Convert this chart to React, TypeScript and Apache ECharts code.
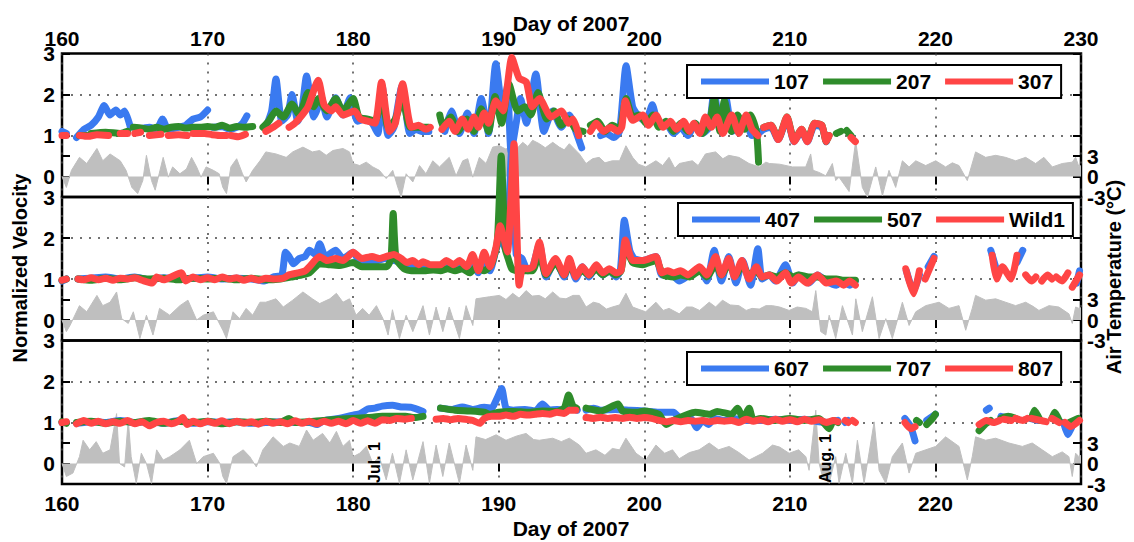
import React, { useEffect, useRef } from 'react';
import * as echarts from 'echarts';

type Pt = [number, number | null];

// Axis tick labels
const velocityLabels = [0, 1, 2, 3];
const temperatureLabels = [-3, 0, 3];
const velocityTickMarks = [-0.5, 0, 0.5, 1, 2, 3];
const temperatureTickMarks = [-3, 0, 3, 6, 12, 18];

const seriesNames = [
  ['107', '207', '307'],
  ['407', '507', 'Wild1'],
  ['607', '707', '807'],
];

// Calendar annotations (day of year)
const dateMarks: { day: number; label: string }[] = [
  { day: 182, label: 'Jul. 1' },
  { day: 213, label: 'Aug. 1' },
];

// ---- Panel 1: normalized velocity ----
const v107: Pt[] = [
  [160.0, 1.1], [160.3, 1.05], [160.4, null],
  [161.0, 0.95], [161.5, 1.15], [162.0, 1.25], [162.5, 1.45], [162.9, 1.73], [163.3, 1.5], [163.7, 1.62], [164.0, 1.5], [164.3, 1.6], [164.7, 1.2], [164.8, null],
  [165.2, 1.15], [166.0, 1.2], [166.5, 1.15], [166.9, 1.4], [167.3, 1.15], [168.0, 1.2], [168.5, 1.25], [169.0, 1.4], [169.5, 1.45], [170.0, 1.62], [170.1, null],
  [170.4, 1.2], [171.0, 1.22], [171.5, 1.15], [172.0, 1.2], [172.4, 1.3], [172.7, 1.48], [172.8, null],
  [174.0, 1.2], [174.4, 1.6], [174.7, 2.38], [175.1, 1.35], [175.5, 1.5], [175.8, 2.0], [176.2, 1.35], [176.5, 1.7], [176.8, 2.45], [177.3, 1.45], [177.6, 1.7], [177.8, 1.95], [178.2, 1.45], [178.8, 1.92], [179.3, 1.5], [179.8, 1.92], [180.3, 1.35], [180.8, 1.4], [181.3, 1.3], [181.7, 1.05], [182.0, 2.2], [182.4, 1.0], [182.8, 1.2], [183.35, 2.2], [183.9, 1.05], [184.3, 1.15], [184.7, 1.1], [185.2, 1.1], [185.3, null],
  [186.3, 1.1], [186.75, 1.6], [187.3, 1.05], [187.85, 1.55], [188.3, 1.05], [188.8, 1.9], [189.3, 1.05], [189.8, 2.75], [190.3, 1.5], [190.6, 2.2], [190.85, 0.6], [191.2, 1.3], [191.5, 1.9], [191.9, 1.3], [192.55, 2.5], [193.1, 1.1], [193.7, 1.6], [194.3, 1.2], [194.85, 1.5], [195.3, 1.1], [195.7, 0.7], [195.8, null],
  [197.0, 1.0], [197.4, 1.05], [197.9, 0.95], [198.3, 1.1], [198.75, 2.7], [199.2, 1.7], [199.65, 1.45], [200.1, 1.35], [200.55, 1.75], [201.0, 1.25], [201.5, 1.3], [202.0, 1.05], [202.5, 1.2], [203.0, 1.0], [203.5, 1.3], [204.0, 1.05], [204.45, 1.2], [204.8, 2.1], [205.2, 1.15], [205.6, 1.93], [206.05, 1.1], [206.5, 1.4], [207.0, 1.35], [207.4, 1.0], [207.9, 1.07], [208.2, 1.15], [208.7, 1.2], [209.2, 0.9], [209.8, 1.4], [210.3, 0.85], [210.8, 1.1], [211.2, 0.85], [211.7, 1.25], [212.2, 1.2], [212.5, 0.85],
];

const v207: Pt[] = [
  [161.2, 1.0], [161.7, 1.0], [161.8, null],
  [162.0, 1.05], [163.0, 1.08], [164.0, 1.05], [164.5, 1.1], [164.6, null],
  [164.9, 1.2], [165.5, 1.18], [166.0, 1.15], [166.5, 1.2], [167.0, 1.15], [167.5, 1.2], [168.0, 1.22], [168.5, 1.18], [169.0, 1.2], [169.5, 1.2], [170.0, 1.22], [170.5, 1.2], [171.0, 1.25], [171.5, 1.18], [172.0, 1.22], [172.5, 1.2], [173.1, 1.22], [173.2, null],
  [173.8, 1.2], [174.2, 1.35], [174.7, 1.6], [175.2, 1.45], [175.8, 1.77], [176.3, 1.5], [176.9, 2.05], [177.3, 1.7], [177.6, 1.9], [178.2, 1.6], [178.8, 1.9], [179.3, 1.6], [180.0, 1.9], [180.4, 1.45], [181.0, 1.4], [181.5, 1.35], [182.0, 1.9], [182.4, 1.2], [182.9, 1.4], [183.4, 1.9], [183.9, 1.2], [184.5, 1.2], [185.2, 1.2], [185.3, null],
  [185.95, 1.5], [186.2, 1.2], [186.7, 1.45], [187.2, 1.1], [187.8, 1.4], [188.3, 1.1], [188.8, 1.65], [189.3, 1.1], [189.75, 1.95], [190.2, 1.3], [190.7, 2.26], [191.3, 1.6], [191.8, 1.7], [192.2, 1.5], [192.7, 2.05], [193.3, 1.4], [193.8, 1.6], [194.3, 1.25], [194.8, 1.4], [195.3, 1.15], [195.8, 1.1], [195.9, null],
  [196.3, 1.25], [196.8, 1.35], [197.3, 1.1], [197.8, 1.25], [198.3, 1.15], [198.75, 1.9], [199.2, 1.45], [199.7, 1.5], [200.1, 1.3], [200.6, 1.5], [201.0, 1.2], [201.5, 1.35], [202.0, 1.1], [202.5, 1.3], [203.0, 1.1], [203.5, 1.3], [204.0, 1.05], [204.5, 1.35], [204.8, 1.9], [205.2, 1.1], [205.5, 1.85], [206.0, 1.1], [206.4, 1.5], [206.9, 1.15], [207.3, 1.5], [207.7, 1.1], [207.85, 0.35], [207.9, null],
  [208.2, 1.2], [208.7, 1.25], [209.2, 0.92], [209.8, 1.45], [210.3, 0.88], [210.8, 1.15], [211.2, 0.88], [211.7, 1.3], [212.2, 1.25], [212.5, 0.85], [212.7, 1.0], [212.8, null],
  [213.2, 1.05], [213.5, 1.1], [213.6, null], [213.9, 1.12], [214.2, 1.0],
];

const v307: Pt[] = [
  [160.0, 1.0], [160.3, 1.0], [160.4, null],
  [161.2, 1.0], [161.8, 0.98], [162.4, 1.02], [163.2, 1.0], [163.3, null],
  [164.0, 1.05], [164.5, 1.05], [164.6, null], [165.0, 1.05], [165.4, 1.08], [165.5, null],
  [166.0, 1.0], [166.8, 1.03], [166.9, null], [167.3, 1.0], [168.0, 1.02], [168.6, 1.0], [168.7, null],
  [169.0, 1.05], [169.8, 1.05], [170.3, 1.02], [171.0, 1.0], [171.3, 1.0], [171.4, null],
  [171.6, 1.0], [172.1, 0.97], [172.6, 1.03], [172.7, null],
  [174.0, 1.1], [174.5, 1.2], [174.9, 1.3], [175.0, null],
  [175.6, 1.2], [176.0, 1.3], [176.5, 1.5], [176.9, 1.7], [177.6, 2.35], [178.0, 1.75], [178.5, 1.6], [178.8, 1.7], [179.3, 1.5], [180.1, 1.6], [180.5, 1.4], [181.0, 1.35], [181.5, 1.3], [181.95, 2.3], [182.5, 1.1], [182.9, 1.3], [183.4, 2.26], [184.0, 1.2], [184.5, 1.25], [185.0, 1.15], [185.3, 1.2], [185.4, null],
  [186.1, 1.15], [186.6, 1.35], [187.0, 1.1], [187.5, 1.4], [187.9, 1.15], [188.3, 1.45], [188.6, 1.2], [189.0, 1.55], [189.3, 1.3], [189.8, 1.85], [190.3, 1.6], [190.9, 2.9], [191.4, 2.4], [191.9, 2.3], [192.3, 1.7], [192.8, 1.9], [193.6, 1.45], [194.3, 1.6], [194.8, 1.3], [195.1, 1.4], [195.5, 1.0], [195.6, null],
  [196.3, 1.1], [196.7, 1.3], [197.2, 1.1], [197.7, 1.2], [198.2, 1.1], [198.45, 1.2], [198.7, 1.85], [199.2, 1.37], [199.9, 1.5], [200.3, 1.25], [200.8, 1.5], [201.3, 1.2], [201.8, 1.35], [202.2, 1.15], [202.7, 1.35], [203.1, 1.1], [203.4, 1.3], [203.8, 1.05], [204.2, 1.45], [204.6, 1.2], [205.0, 1.45], [205.4, 1.05], [206.0, 1.5], [206.5, 1.05], [207.0, 1.5], [207.4, 1.15], [207.8, 1.0], [207.9, null],
  [208.2, 1.2], [208.7, 1.25], [209.2, 0.9], [209.8, 1.45], [210.3, 0.85], [210.8, 1.15], [211.2, 0.85], [211.7, 1.3], [212.2, 1.25], [212.5, 0.85], [212.7, 1.0], [212.8, null],
  [214.2, 0.95], [214.5, 0.85],
];

// ---- Panel 2: normalized velocity ----
const v407: Pt[] = [
  [160.0, 0.95], [160.3, 1.0], [160.35, null],
  [161.1, 1.0], [162, 1.02], [163, 1.05], [164, 1.0], [165, 1.05], [166, 0.98], [167, 1.03], [168, 1.0], [169, 1.02], [170, 1.05], [171, 1.0], [172, 1.02], [173, 1.0], [173.9, 0.95], [174.5, 1.05], [175.1, 1.1], [175.35, 1.65], [175.6, 1.55], [175.9, 1.37], [176.3, 1.5], [176.7, 1.55], [177.0, 1.7], [177.4, 1.6], [177.7, 1.86], [178.1, 1.55], [178.8, 1.7], [179.3, 1.5], [180.0, 1.65], [180.5, 1.4], [181.1, 1.45], [181.6, 1.45], [182.2, 1.5], [182.8, 1.45], [183.3, 1.4], [183.8, 1.3], [184.3, 1.35], [184.8, 1.25], [185.3, 1.3], [185.8, 1.25], [186.3, 1.3], [186.8, 1.25], [187.3, 1.35], [187.8, 1.2], [188.2, 1.45], [188.6, 1.15], [189.0, 1.55], [189.4, 1.2], [189.8, 1.7], [190.1, 2.0], [190.5, 1.7], [190.9, 4.2], [191.2, 1.6], [191.6, 1.5], [192.0, 1.2], [192.3, 1.25], [192.8, 1.85], [193.25, 1.05], [193.9, 1.45], [194.5, 1.05], [194.85, 1.45], [195.3, 1.0], [195.75, 1.3], [196.2, 1.05], [196.7, 1.3], [197.15, 1.1], [197.6, 1.2], [198.05, 1.05], [198.35, 1.2], [198.63, 2.43], [199.0, 1.7], [199.3, 1.5], [199.9, 1.45], [200.8, 1.55], [201.2, 1.1], [201.9, 1.1], [202.4, 0.95], [203.1, 1.1], [203.8, 1.25], [204.3, 0.95], [204.8, 1.7], [205.3, 0.95], [205.8, 1.55], [206.3, 0.9], [206.75, 1.45], [207.3, 0.85], [207.8, 1.74], [208.1, 1.0], [208.6, 1.1], [209.0, 0.95], [209.7, 1.35], [210.2, 0.9], [210.6, 1.1], [211.3, 0.9], [211.9, 1.1], [212.5, 0.95], [213.2, 0.85], [213.6, 0.95], [214.1, 0.85], [214.5, 0.95], [214.6, null],
  [218.0, 1.2], [218.5, 0.7], [218.9, 1.1], [219.0, null],
  [219.5, 1.3], [219.9, 1.55], [220.0, null],
  [223.8, 1.7], [224.3, 1.1], [224.4, null],
  [225.6, 1.4], [226.0, 1.7], [226.1, null],
  [229.7, 0.9], [229.9, 1.2],
];

const v507: Pt[] = [
  [160.0, 0.97], [160.3, 1.0], [160.35, null],
  [161.1, 1.0], [162, 0.97], [163, 1.02], [164, 0.98], [165, 1.03], [166, 1.0], [167, 1.02], [168, 0.98], [169, 1.02], [170, 1.0], [171, 1.02], [172, 0.98], [173, 1.02], [174, 0.98], [175, 1.0], [175.8, 1.05], [176.5, 1.1], [177.0, 1.15], [177.7, 1.37], [178.3, 1.35], [179.0, 1.33], [180.0, 1.4], [180.6, 1.3], [181.5, 1.3], [182.3, 1.3], [182.6, 1.5], [182.75, 2.6], [182.95, 1.5], [183.5, 1.25], [184.0, 1.2], [184.5, 1.2], [185.0, 1.2], [185.5, 1.22], [186.0, 1.2], [186.5, 1.25], [187.0, 1.2], [187.5, 1.25], [188.0, 1.15], [188.5, 1.3], [189.0, 1.2], [189.5, 1.35], [189.9, 1.9], [190.17, 4.0], [190.45, 1.74], [190.65, 1.5], [190.9, 1.25], [191.3, 1.2], [191.7, 1.2], [192.3, 1.2], [192.8, 1.6], [193.25, 1.1], [193.9, 1.4], [194.5, 1.1], [194.85, 1.35], [195.3, 1.1], [195.75, 1.2], [196.2, 1.1], [196.7, 1.25], [197.15, 1.1], [197.6, 1.2], [198.05, 1.1], [198.4, 1.2], [198.7, 1.8], [199.2, 1.4], [199.9, 1.35], [200.8, 1.45], [201.3, 1.1], [202.0, 1.05], [202.5, 1.1], [203.1, 1.05], [203.8, 1.2], [204.3, 1.05], [204.9, 1.35], [205.3, 1.1], [205.8, 1.35], [206.3, 1.1], [206.7, 1.35], [207.2, 1.1], [207.7, 1.2], [208.1, 1.05], [208.6, 1.1], [209.1, 1.05], [209.7, 1.15], [210.2, 1.05], [210.6, 1.1], [211.3, 1.05], [211.9, 1.05], [212.5, 1.0], [213.2, 1.0], [213.7, 0.97], [214.5, 0.97],
];

const vWild1: Pt[] = [
  [160.0, 0.97], [160.3, 1.0], [160.35, null],
  [161.1, 1.0], [161.5, 0.98], [162, 1.03], [162.5, 0.98], [163, 1.02], [163.5, 0.97], [164, 1.02], [164.5, 1.0], [165, 1.03], [165.5, 0.97], [166.2, 0.9], [166.5, 1.05], [167, 0.98], [167.5, 1.05], [168.2, 1.15], [168.5, 0.95], [169, 1.05], [169.5, 0.98], [170, 1.03], [170.5, 0.98], [171, 1.05], [171.5, 1.0], [172, 1.03], [172.5, 0.97], [173, 1.02], [173.5, 0.97], [174, 1.02], [174.5, 1.0], [175.2, 1.02], [175.6, 1.1], [176.2, 1.15], [176.7, 1.2], [177.0, 1.3], [177.7, 1.55], [178.2, 1.45], [178.8, 1.5], [179.3, 1.45], [180.0, 1.65], [180.6, 1.5], [181.3, 1.55], [181.8, 1.5], [182.3, 1.55], [182.8, 1.6], [183.3, 1.5], [183.7, 1.4], [184.1, 1.45], [184.5, 1.35], [184.8, 1.42], [185.3, 1.35], [186.0, 1.35], [186.4, 1.45], [186.9, 1.35], [187.3, 1.45], [187.8, 1.3], [188.2, 1.6], [188.6, 1.2], [189.0, 1.65], [189.4, 1.3], [189.8, 1.75], [190.1, 2.3], [190.35, 2.0], [190.6, 1.66], [191.05, 4.3], [191.4, 0.85], [191.65, 1.27], [192.0, 1.25], [192.35, 1.3], [192.8, 1.9], [193.25, 1.13], [193.9, 1.5], [194.5, 1.1], [194.85, 1.5], [195.3, 1.05], [195.75, 1.3], [196.2, 1.1], [196.7, 1.35], [197.15, 1.15], [197.6, 1.25], [198.05, 1.15], [198.4, 1.2], [198.7, 1.95], [199.2, 1.45], [199.9, 1.45], [200.8, 1.55], [201.2, 1.15], [201.6, 1.2], [202.0, 1.15], [202.5, 1.2], [203.0, 1.1], [203.8, 1.3], [204.3, 1.1], [204.9, 1.55], [205.3, 1.1], [205.8, 1.5], [206.2, 1.05], [206.7, 1.45], [207.2, 1.0], [207.7, 1.3], [208.1, 1.05], [208.6, 1.1], [209.1, 0.95], [209.7, 1.15], [210.1, 0.9], [210.6, 1.05], [211.2, 0.9], [211.9, 1.1], [212.5, 0.9], [213.2, 0.95], [213.7, 0.85], [214.1, 0.95], [214.5, 0.85], [214.6, null],
  [217.96, 1.25], [218.5, 0.64], [218.9, 1.2], [219.0, null],
  [219.3, 1.0], [219.9, 1.5], [220.0, null],
  [223.9, 1.58], [224.2, 1.0], [224.6, 1.3], [225.2, 1.0], [225.6, 1.58], [225.8, null],
  [226.2, 1.1], [226.6, 0.95], [226.9, 1.05], [227.0, null],
  [227.3, 0.95], [227.7, 1.1], [228.0, 1.0], [228.1, null],
  [228.3, 1.05], [228.7, 0.95], [229.1, 1.15], [229.2, null],
  [229.4, 0.8], [229.9, 1.1],
];

// ---- Panel 3: normalized velocity ----
const v607: Pt[] = [
  [160, 1.0], [160.3, 1.0], [160.35, null],
  [161.0, 0.98], [162, 1.02], [163, 1.0], [164, 1.05], [165, 1.0], [166, 1.02], [167, 0.98], [168, 1.05], [169, 0.98], [170, 1.02], [171, 1.0], [172, 1.02], [173, 0.98], [174, 1.0], [175, 1.02], [176, 1.0], [177, 1.0], [177.5, 0.95], [178, 1.05], [179, 1.1], [180, 1.18], [180.5, 1.22], [181, 1.33], [181.5, 1.35], [182, 1.4], [182.7, 1.42], [183.3, 1.38], [184, 1.37], [184.8, 1.27], [184.9, null],
  [186.0, 1.35], [186.8, 1.32], [187.5, 1.38], [188.2, 1.32], [189, 1.37], [189.5, 1.35], [189.9, 1.6], [190.2, 1.83], [190.5, 1.35], [191, 1.3], [191.8, 1.32], [192.5, 1.28], [193.0, 1.45], [193.5, 1.3], [194, 1.32], [194.6, 1.3], [195.0, 1.35], [195.4, 1.3], [195.45, null],
  [196.0, 1.3], [196.5, 1.35], [197, 1.3], [198, 1.32], [199, 1.3], [200, 1.28], [201, 1.25], [202, 1.25], [202.5, 1.1], [203.2, 1.1], [203.6, 0.87], [204.0, 1.05], [204.4, 0.95], [204.8, 1.1], [205.5, 1.05], [206, 1.1], [207, 1.05], [208, 1.05], [209, 1.08], [210, 1.05], [211, 1.08], [212, 1.02], [212.7, 1.0], [213.3, 1.05], [213.4, null],
  [213.8, 1.0], [214.0, 1.05], [214.1, null],
  [217.9, 1.1], [218.3, 0.9], [218.6, 0.55], [218.7, null],
  [219.4, 1.05], [220.0, 1.2], [220.1, null],
  [223.5, 1.3], [223.7, 1.35], [223.8, null],
  [224.5, 1.15], [225.0, 1.1], [225.1, null],
  [226.5, 1.1], [227.0, 1.05], [227.1, null],
  [228.8, 1.0], [229.1, 0.7], [229.5, 1.0],
];

const v707: Pt[] = [
  [160, 1.02], [160.3, 0.98], [160.35, null],
  [161.0, 1.0], [162, 1.03], [163, 0.98], [164, 1.03], [165, 1.0], [166, 1.05], [167, 0.98], [168, 1.03], [169, 1.0], [170, 1.03], [171, 0.97], [172, 1.02], [173, 1.0], [174, 1.03], [175, 1.0], [175.6, 1.1], [176, 1.0], [177, 1.02], [178, 1.05], [179, 1.08], [180, 1.1], [181, 1.12], [182, 1.15], [183, 1.15], [183.6, 1.15], [184.2, 1.12], [184.8, 1.15], [184.9, null],
  [186.0, 1.35], [187, 1.3], [188, 1.28], [189, 1.25], [189.4, 1.2], [190, 1.25], [191, 1.27], [192, 1.25], [193, 1.28], [194, 1.27], [194.5, 1.35], [194.8, 1.67], [195.1, 1.4], [195.35, 1.35], [195.45, null],
  [196.0, 1.35], [197, 1.28], [198.2, 1.45], [198.5, 1.28], [199.5, 1.25], [200, 1.28], [201, 1.2], [201.5, 0.95], [202, 1.05], [203, 1.2], [203.5, 1.25], [204.5, 1.2], [205, 1.27], [206, 1.2], [206.4, 1.35], [206.8, 1.1], [207.2, 1.35], [207.5, 1.05], [208, 1.1], [209, 1.05], [210, 1.1], [211, 1.05], [212, 1.1], [212.7, 0.85], [213.0, 1.05], [213.3, 1.0], [213.4, null],
  [218.7, 1.05], [218.9, 1.0], [219.0, null],
  [219.4, 0.95], [219.8, 1.1], [220.0, 1.2], [220.1, null],
  [223.0, 0.8], [223.4, 0.95], [223.8, 1.05], [224.0, null],
  [224.5, 1.1], [225.0, 1.15], [225.5, 1.1], [225.6, null],
  [226.6, 1.1], [226.8, 1.3], [227.2, 1.05], [227.3, null],
  [228.0, 1.1], [228.2, 1.25], [228.5, 1.05], [228.6, null],
  [229.2, 1.0], [229.8, 1.1],
];

const v807: Pt[] = [
  [160, 1.0], [160.3, 1.02], [160.35, null],
  [161.0, 0.97], [161.5, 1.05], [162, 0.98], [162.5, 1.03], [163, 0.97], [163.5, 1.02], [164, 0.98], [164.5, 1.05], [165, 0.97], [165.5, 1.02], [166, 0.92], [166.5, 1.0], [167, 1.03], [167.5, 0.97], [168, 1.03], [168.3, 1.12], [168.6, 0.95], [169, 1.03], [169.5, 0.97], [170, 1.03], [170.5, 0.98], [171, 1.04], [171.5, 0.97], [172, 1.03], [172.5, 0.98], [173, 1.02], [173.5, 0.96], [174, 1.03], [174.5, 0.98], [175, 1.02], [175.5, 0.97], [176, 1.04], [176.5, 0.98], [177, 1.03], [177.5, 0.97], [178, 1.03], [178.5, 0.98], [179, 1.03], [179.5, 0.97], [180, 1.05], [180.5, 0.98], [181, 1.04], [181.5, 0.98], [182, 1.07], [182.5, 1.05], [183, 1.1], [183.5, 1.08], [184.0, 1.1], [184.1, null],
  [185.7, 1.08], [186.2, 1.1], [186.7, 1.07], [187.2, 1.1], [187.7, 1.08], [188.2, 1.05], [188.7, 0.98], [189.0, 1.1], [189.5, 1.15], [190, 1.15], [190.5, 1.18], [191, 1.15], [191.5, 1.2], [192, 1.18], [192.5, 1.2], [193, 1.22], [193.5, 1.2], [194, 1.25], [194.5, 1.22], [194.85, 1.3], [195.3, 1.3], [195.35, null],
  [196.0, 1.12], [196.5, 1.1], [197, 1.13], [197.5, 1.1], [198, 1.12], [198.5, 1.1], [199, 1.13], [199.5, 1.1], [200, 1.12], [200.5, 1.1], [201, 1.05], [201.5, 1.02], [202, 1.05], [202.5, 1.02], [203, 1.05], [203.5, 1.03], [204, 1.05], [204.5, 1.02], [205, 1.05], [205.5, 1.03], [206, 1.05], [206.5, 1.0], [207, 1.08], [207.5, 1.03], [208, 1.07], [208.5, 1.02], [209, 1.08], [209.5, 1.03], [210, 1.07], [210.5, 1.02], [211, 1.08], [211.5, 1.03], [212, 1.07], [212.5, 1.0], [213, 1.05], [213.3, 1.02], [213.4, null],
  [213.8, 1.05], [214.0, 1.0], [214.1, null],
  [214.3, 1.05], [214.5, 1.0], [214.6, null],
  [217.9, 1.0], [218.3, 0.85], [218.6, 0.9], [218.7, null],
  [223.0, 0.95], [223.5, 1.05], [224.0, 1.0], [224.4, 1.05], [224.5, null],
  [224.7, 1.08], [225.2, 1.05], [225.3, null],
  [225.5, 1.1], [226.0, 1.05], [226.3, 1.1], [226.4, null],
  [226.6, 1.1], [227.2, 1.05], [227.6, 1.02], [227.7, null],
  [228.0, 1.1], [228.5, 1.0], [228.6, null],
  [228.9, 1.0], [229.3, 0.9], [229.9, 1.05],
];

// ---- Air temperature (°C) shown under each panel ----
const tempTop: Pt[] = [
  [160.0, 0], [160.3, -1.6], [160.65, 0.9], [161.2, 2.8], [161.7, 1.9], [162.4, 4.1], [162.8, 2.3], [163.3, 3.3], [164.0, 2.3], [164.4, 0.9], [164.8, -1.6], [165.2, -2.5], [165.55, -0.6], [165.8, 3.1], [166.15, -0.6], [166.4, -2.0], [166.95, 2.8], [167.3, -0.1], [167.6, 1.4], [168.1, 0.4], [168.55, 1.1], [168.9, 2.8], [169.25, 1.4], [169.55, -0.1], [169.9, 1.4], [170.4, 0.9], [170.8, 0.4], [171.05, -1.6], [171.3, -2.5], [171.6, 1.4], [172.0, 2.6], [172.4, 0.4], [172.65, -0.8], [173.1, 0.9], [173.6, 2.3], [174.0, 3.6], [174.7, 3.3], [175.4, 2.8], [175.85, 3.6], [176.55, 4.3], [177.2, 3.6], [177.7, 3.8], [178.15, 3.1], [178.6, 3.8], [179.3, 4.1], [179.75, 3.6], [180.0, 1.9], [180.45, 1.6], [180.9, 2.1], [181.35, 1.4], [181.8, 0.9], [182.27, -0.3], [182.72, 0.9], [183.07, -1.6], [183.3, -3], [183.64, 0.4], [184.1, -0.8], [184.56, 1.6], [185.0, 0.4], [185.47, 2.3], [185.93, 1.4], [186.6, 2.8], [187.07, 0.1], [187.53, 2.3], [187.87, 2.6], [188.22, -0.1], [188.67, 2.8], [189.13, 1.9], [189.59, 4.3], [190.05, 4.5], [190.5, 4.0], [190.96, 4.8], [191.3, 4.2], [191.65, 5.0], [192.0, 4.4], [192.33, 5.3], [192.79, 4.8], [193.2, 4.2], [193.71, 5.0], [194.16, 4.3], [194.5, 3.9], [194.85, 4.8], [195.54, 3.3], [196.0, 1.9], [196.45, 2.6], [196.9, 2.8], [197.3, 2.0], [197.8, 2.3], [198.3, 2.3], [198.74, 4.5], [199.2, 2.8], [199.6, 1.8], [200.1, 1.4], [200.8, 2.3], [201.26, 1.6], [201.7, 2.8], [202.1, 1.2], [202.4, 1.9], [203.3, 2.3], [203.7, 1.6], [204.2, 3.3], [204.9, 3.6], [205.4, 2.6], [205.8, 3.1], [206.5, 2.8], [207.2, 1.9], [207.9, 1.4], [208.35, 2.1], [208.6, 1.9], [209.3, 1.8], [210.18, 1.4], [211.09, 1.4], [211.43, 3.3], [211.6, 0.9], [212.0, 0.6], [212.47, 0.1], [212.92, 1.9], [213.15, -0.6], [213.38, -0.1], [214.07, -2.2], [214.52, 5.2], [214.98, -1.6], [215.33, -3], [215.9, 1.4], [216.36, -2.8], [216.81, 0.9], [217.27, -1.6], [217.73, 2.3], [218.19, 1.4], [218.65, 2.3], [219.33, 1.6], [220.02, 2.3], [220.7, 1.4], [221.16, 2.0], [221.62, 1.6], [222.19, -0.6], [222.76, 3.6], [223.45, 2.8], [224.14, 3.1], [224.82, 2.8], [225.51, 2.3], [226.2, 2.8], [226.88, 1.9], [227.45, 2.8], [228.03, 1.4], [228.71, 1.9], [229.4, 2.1], [229.63, 2.8], [229.86, 1.4], [230, 1.6],
];

const tempMiddle: Pt[] = [
  [160.0, 0], [160.3, -1.7], [160.55, -0.8], [161.2, 2.1], [161.7, 1.2], [162.4, 3.6], [162.8, 2.1], [163.3, 2.6], [163.75, 4.1], [164.1, 0.2], [164.55, -0.5], [164.9, 1.2], [165.35, -2.7], [165.8, 0.7], [166.25, -2.2], [166.7, 1.7], [167.4, 0.7], [168.1, 2.1], [168.65, 2.9], [169.25, 0], [169.7, 0.7], [170.4, 1.2], [171.05, -1.5], [171.3, -2.7], [171.75, 1.2], [172.2, 0.2], [172.65, 1.7], [173.1, 0.7], [173.6, 2.6], [174.0, 2.6], [174.7, 3.1], [175.2, 1.9], [175.85, 2.9], [176.55, 4.1], [177.2, 3.1], [177.7, 2.4], [178.4, 3.1], [178.85, 3.9], [179.3, 2.6], [179.75, 3.1], [180.2, 0.7], [180.65, 1.7], [181.1, 0.7], [181.6, 2.1], [182.05, 0.2], [182.4, -2.2], [182.7, 1.5], [183.18, -2.7], [183.64, 0.7], [184.1, -1.7], [184.8, 2.1], [185.24, -2.2], [185.7, 1.9], [186.16, -1.7], [186.6, 1.9], [187.3, -2.7], [187.76, 2.1], [188.22, -0.8], [188.44, 3.1], [189.36, 3.4], [190.05, 3.6], [190.5, 3.0], [190.96, 3.9], [191.4, 3.2], [191.88, 4.3], [192.3, 3.5], [192.79, 3.6], [193.2, 3.1], [193.71, 4.1], [194.2, 3.2], [194.62, 3.1], [195.1, 3.6], [195.54, 3.6], [196.0, 1.9], [196.5, 2.6], [196.9, 2.4], [197.4, 1.6], [197.8, 1.9], [198.3, 2.2], [198.74, 3.9], [199.2, 1.9], [199.7, 1.5], [200.1, 1.2], [200.8, 2.6], [201.3, 1.4], [201.7, 1.7], [202.4, 0.9], [202.9, 1.9], [203.3, 1.9], [203.8, 1.4], [204.46, 2.6], [204.9, 1.9], [205.37, 2.9], [205.9, 2.2], [206.5, 2.1], [207.0, 1.4], [207.4, 1.7], [207.9, 1.6], [208.35, 2.1], [208.8, 2.1], [209.3, 1.9], [209.95, 1.4], [210.5, 1.9], [211.1, 1.7], [211.55, 1.2], [211.78, 4.3], [212.12, -1.7], [212.47, -2.2], [212.7, 0.7], [213.15, -2.7], [213.61, 2.1], [214.3, -2.2], [214.53, 3.1], [214.98, -1.7], [215.67, 3.4], [216.13, -2.7], [216.59, 0.2], [217.04, -2.7], [217.73, 2.6], [218.19, -0.8], [218.65, 1.2], [219.33, 2.1], [220.25, 2.6], [220.93, 1.7], [221.62, 2.1], [222.08, -1.5], [222.53, 1.7], [222.76, 3.6], [223.45, 2.9], [224.14, 3.1], [224.82, 2.6], [225.51, 2.1], [226.2, 2.6], [226.7, 2.0], [227.11, 1.4], [227.8, 2.1], [228.48, 1.9], [229.17, 0.9], [229.4, -0.5], [229.63, 1.9], [229.86, 1.7], [230, 1.8],
];

const tempBottom: Pt[] = [
  [160.0, 0], [160.3, -1.9], [160.75, -1.4], [161.2, 1.0], [161.45, 3.4], [161.9, 2.0], [162.35, 3.2], [162.8, 1.5], [163.3, 2.0], [163.75, 7.3], [163.95, 0], [164.3, -0.5], [164.55, 6.4], [164.75, 1.0], [165.1, -2.9], [165.45, 1.5], [165.8, 0], [166.15, -2.9], [166.5, 2.0], [166.95, 0.5], [167.4, 1.0], [168.1, 2.0], [168.75, 3.4], [169.25, 0], [169.7, 1.0], [170.4, 1.5], [170.85, 0], [171.05, -1.9], [171.3, -2.9], [171.75, 1.0], [172.45, 2.0], [172.9, 1.0], [173.35, -0.5], [173.8, 2.0], [174.5, 3.9], [175.2, 2.5], [175.65, 3.0], [176.3, 2.5], [176.8, 4.9], [177.25, 3.4], [177.9, 4.4], [178.4, 3.0], [178.85, 4.7], [179.3, 2.5], [179.75, 3.4], [180.0, 1.0], [180.45, 1.5], [180.9, 2.5], [181.35, 0], [181.8, 1.0], [182.27, -2.4], [182.7, 1.5], [183.18, -2.9], [183.64, 2.0], [184.1, -2.4], [184.8, 3.2], [185.24, -2.9], [185.7, 2.7], [186.16, -1.9], [186.6, 3.0], [187.3, -2.9], [187.76, 2.7], [188.22, -1.0], [188.44, 3.9], [189.1, 3.5], [189.82, 4.2], [190.5, 3.4], [191.2, 4.0], [191.88, 4.4], [192.4, 3.5], [192.79, 3.4], [193.71, 3.7], [194.3, 3.2], [194.85, 3.7], [195.54, 2.7], [196.0, 1.5], [196.68, 2.0], [197.3, 1.2], [197.8, 2.2], [198.3, 2.0], [198.74, 3.7], [199.43, 1.5], [200.1, 0.5], [200.8, 2.7], [201.4, 1.5], [201.94, 2.0], [202.4, 0.7], [203.1, 1.6], [203.77, 2.0], [204.46, 3.0], [205.1, 2.0], [205.83, 2.5], [206.5, 1.6], [207.2, 0.5], [208.12, 1.5], [208.81, 2.7], [209.3, 2.4], [209.95, 1.5], [210.6, 2.0], [211.1, 1.0], [211.32, -1.0], [211.78, 7.8], [212.01, 0], [212.24, -1.9], [212.7, -2.9], [213.15, 1.0], [213.38, -2.9], [213.84, 1.5], [214.3, -2.9], [214.64, 3.4], [215.1, -2.9], [215.79, 6.1], [216.13, -1.0], [216.59, -2.9], [217.04, 1.0], [217.73, 3.0], [218.19, -1.4], [218.65, 1.5], [219.33, 2.0], [220.02, 2.5], [220.7, 3.9], [221.62, 2.5], [222.19, -2.4], [222.53, 1.0], [222.76, 3.9], [223.45, 3.4], [224.14, 3.7], [225.05, 3.0], [225.97, 2.5], [226.65, 3.0], [227.34, 2.0], [228.03, 1.0], [228.71, 1.7], [229.17, 1.0], [229.4, -1.9], [229.63, 1.5], [229.86, 1.0], [230, 1.2],
];

const velocityData = [
  [v107, v207, v307],
  [v407, v507, vWild1],
  [v607, v707, v807],
];
const temperatureData = [tempTop, tempMiddle, tempBottom];

const COLORS = ['#3a7af0', '#2f8c2b', '#ff4545'];
const GREY = '#bfbfbf';
const FONT = '"Liberation Sans", Arial, Helvetica, sans-serif';

const GRID_TOPS = [53.5, 197, 340.5];
const GRID_HEIGHT = 143.5;
const LEGEND_POS = [
  { left: 687, top: 65 },
  { left: 678, top: 203 },
  { left: 687, top: 352 },
];

const labelStyle = { fontSize: 21, fontWeight: 'bold', color: '#000', fontFamily: FONT };
const tickStyle = { color: '#000', width: 2 };
const gridLineStyle = { color: '#444', type: [2, 7], width: 1.5 };

// Right-hand temperature labels are split over two axes so that the tightly
// spaced values are not dropped by the label-overlap pass.
const temperatureLabelSets = [
  temperatureLabels.filter((_, i) => i % 2 === 0),
  temperatureLabels.filter((_, i) => i % 2 === 1),
];

function buildOption(): any {
  const grid: any[] = [];
  const xAxis: any[] = [];
  const yAxis: any[] = [];
  const series: any[] = [];
  const legend: any[] = [];

  GRID_TOPS.forEach((top, g) => {
    grid.push({
      left: 62, right: 53, top, height: GRID_HEIGHT,
      show: true, borderColor: '#000', borderWidth: 2.5, backgroundColor: 'transparent',
    });

    const xBase = {
      type: 'value', gridIndex: g, min: 160, max: 230, interval: 10,
      axisLine: { show: false },
      axisTick: { show: true, inside: true, length: 8, lineStyle: tickStyle },
    };
    xAxis.push({
      ...xBase, position: 'bottom',
      axisLabel: { show: g === 2, margin: 9, ...labelStyle },
      splitLine: { show: true, lineStyle: gridLineStyle },
    });
    xAxis.push({
      ...xBase, position: 'top',
      axisLabel: { show: g === 0, margin: 5, ...labelStyle },
      splitLine: { show: false },
    });

    // 4g: velocity (left)
    yAxis.push({
      type: 'value', gridIndex: g, position: 'left', min: -0.5, max: 3,
      axisLine: { show: false },
      axisTick: { show: true, inside: true, length: 8, lineStyle: tickStyle, customValues: velocityTickMarks },
      axisLabel: { show: true, margin: 7, customValues: velocityLabels, ...labelStyle },
      splitLine: { show: false },
    });
    // 4g+1 and 4g+2: temperature (right)
    temperatureLabelSets.forEach((labels, j) => {
      yAxis.push({
        type: 'value', gridIndex: g, position: 'right', min: -3, max: 18,
        axisLine: { show: false },
        axisTick: j === 0
          ? { show: true, inside: true, length: 8, lineStyle: tickStyle, customValues: temperatureTickMarks }
          : { show: false },
        axisLabel: { show: true, margin: 6, customValues: labels, showMinLabel: true, showMaxLabel: true, ...labelStyle },
        splitLine: { show: false },
      });
    });
    // 4g+3: hidden helper axis carrying the dotted horizontal grid at velocity 1 and 2
    yAxis.push({
      type: 'value', gridIndex: g, position: 'left', min: -0.5, max: 3, interval: 0.5,
      axisLine: { show: false }, axisTick: { show: false }, axisLabel: { show: false },
      splitLine: {
        show: true,
        lineStyle: {
          ...gridLineStyle,
          color: ['transparent', 'transparent', 'transparent', '#444', 'transparent', '#444', 'transparent', 'transparent'],
        },
      },
    });

    series.push({
      type: 'line', name: `temperature-${g}`, xAxisIndex: 2 * g, yAxisIndex: 4 * g + 1,
      data: temperatureData[g], showSymbol: false, silent: true, z: 1,
      lineStyle: { width: 1, color: GREY }, itemStyle: { color: GREY },
      areaStyle: { color: GREY, opacity: 1 },
    });

    velocityData[g].forEach((data, k) => {
      series.push({
        type: 'line', name: seriesNames[g][k], xAxisIndex: 2 * g, yAxisIndex: 4 * g,
        data, showSymbol: false, connectNulls: false, smooth: 0.2, clip: g !== 1, z: 2,
        lineStyle: { width: 7, color: COLORS[k], cap: 'round', join: 'round' },
        itemStyle: { color: COLORS[k] },
      });
    });

    legend.push({
      data: seriesNames[g], left: LEGEND_POS[g].left, top: LEGEND_POS[g].top,
      orient: 'horizontal', icon: 'rect', itemWidth: 68, itemHeight: 6, itemGap: 14,
      padding: [6, 8, 6, 14], borderColor: '#000', borderWidth: 2, backgroundColor: '#fff',
      selectedMode: false, textStyle: { fontSize: 21, fontWeight: 'bold', color: '#000', fontFamily: FONT },
    });
  });

  return { animation: false, backgroundColor: '#fff', grid, xAxis, yAxis, series, legend };
}

function text(x: number, y: number, s: string, size: number, rotate = 0, align = 'center', vAlign = 'middle'): any {
  return {
    type: 'text', x, y, rotation: rotate, z: 100,
    style: {
      text: s, fill: '#000', font: `bold ${size}px ${FONT}`,
      align, verticalAlign: vAlign, textAlign: align, textVerticalAlign: vAlign,
    },
  };
}

export default function App() {
  const ref = useRef<HTMLDivElement>(null);

  useEffect(() => {
    if (!ref.current) return;
    const chart = echarts.init(ref.current, undefined, { renderer: 'svg' });
    chart.setOption(buildOption());

    const elements: any[] = [
      text(20, 268, 'Normalized Velocity', 20, Math.PI / 2),
      text(1114, 277, 'Air Temperature (\u00B0C)', 20, Math.PI / 2),
      text(571, 23, 'Day of 2007', 21),
      text(571, 528, 'Day of 2007', 21),
    ];
    dateMarks.forEach((m) => {
      const p = chart.convertToPixel({ xAxisIndex: 4, yAxisIndex: 8 }, [m.day, -0.5]) as number[];
      elements.push(text(p[0], p[1] - 1, m.label, 16, Math.PI / 2, 'left', 'bottom'));
    });
    chart.setOption({ graphic: { elements } });

    return () => chart.dispose();
  }, []);

  return (
    <div
      ref={ref}
      style={{ position: 'fixed', left: 0, top: 0, width: 1134, height: 542, background: '#fff' }}
    />
  );
}
